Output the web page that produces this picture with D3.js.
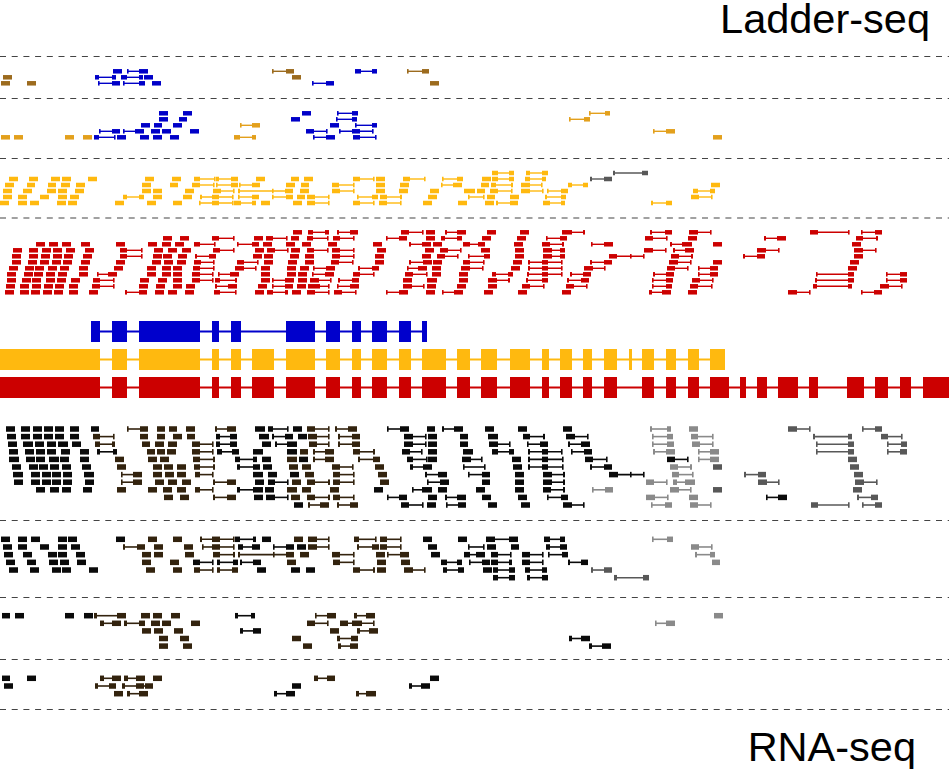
<!DOCTYPE html>
<html><head><meta charset="utf-8">
<script src="https://cdn.jsdelivr.net/npm/d3@7"></script>
<style>body{margin:0;background:#fff}svg{display:block}</style>
</head><body>
<script>
// ---------- DATA ----------
// gene model exons (genomic coordinate units)
const exonsIso1 = [[91,100],[112,127],[139,200],[212,219],[231,241],[286,315],[326,340],[352,361],[372,387],[399,411],[422,427]];
const exonsIso2 = [[0,100],[112,127],[139,200],[212,219],[231,241],[252,274],[286,315],[326,340],[352,361],[372,387],[399,411],[422,446],[457,470],[481,497],[510,530],[542,549],[560,572],[583,592],[604,617],[629,632],[642,654],[666,676],[688,699],[710,725]];
const exonsIso3 = [[0,100],[112,127],[139,200],[212,219],[231,241],[252,274],[286,315],[326,340],[352,361],[372,387],[399,411],[422,446],[457,470],[481,497],[510,530],[542,549],[560,572],[583,592],[604,617],[642,654],[666,676],[688,699],[710,729],[740,746],[757,767],[778,798],[809,818],[847,864],[875,888],[900,911],[923,949]];

// reads: [row, group, start1, end1, start2, end2, ...]
const ladderBin1 = [
[0,'B',113,122],[0,'B',127,128,139,148],[0,'w',272,273,286,294],[0,'B',355,361,372,377],[0,'w',407,408,422,429],
[1,'w',3,12],[1,'B',95,99,112,116],[1,'B',121,127,139,143],[1,'B',144,153],[1,'w',292,301],
[2,'w',1,10],[2,'w',27,36],[2,'B',98,99,112,120],[2,'B',123,124,139,145],[2,'B',152,161],[2,'B',312,313,326,334],[2,'w',430,439]
];
const ladderBin2 = [
[0,'B',159,168],[0,'B',183,192],[0,'B',302,311],[0,'B',337,338,352,358],[0,'o',589,590,605,610],
[1,'B',159,168],[1,'B',179,187],[1,'B',291,300],[1,'B',336,337,352,357],[1,'o',569,570,584,590],
[2,'B',141,150],[2,'B',154,162],[2,'B',173,182],[2,'o',240,241,252,260],[2,'B',330,339],[2,'B',355,356,372,377],
[3,'B',99,100,112,120],[3,'B',123,124,135,144],[3,'B',151,160],[3,'B',162,171],[3,'B',190,199],[3,'B',306,314,326,327],[3,'B',339,340,352,360,372,373],[3,'o',653,654,666,675],
[4,'o',1,10],[4,'o',14,23],[4,'o',65,74],[4,'o',83,92],[4,'B',94,99,114,115],[4,'B',117,126],[4,'B',140,149],[4,'B',153,162],[4,'B',170,179],[4,'o',234,240,252,256],[4,'B',313,314,326,335],[4,'B',353,360,375,376],[4,'o',713,722]
];
const ladderBin3 = [
[0,'y',492,498,509,514],[0,'y',526,530,542,548],[0,'d',613,615,642,648],
[1,'y',9,18],[1,'y',29,38],[1,'y',51,60],[1,'y',62,71],[1,'y',88,97],[1,'y',145,154],[1,'y',172,181],[1,'y',194,200,214,215],[1,'y',216,219,231,238],[1,'y',256,265],[1,'y',291,299],[1,'y',304,313],[1,'y',353,360,373,374],[1,'y',376,385],[1,'y',403,410,424,425],[1,'y',442,443,457,463],[1,'y',482,491],[1,'y',492,498,509,514],[1,'y',525,530,542,546],[1,'d',590,592,604,612],
[2,'y',5,14],[2,'y',27,35],[2,'y',48,56],[2,'y',61,70],[2,'y',76,85],[2,'y',142,151],[2,'y',170,178],[2,'y',192,200,213,214],[2,'y',216,217,231,238],[2,'y',239,240,252,260],[2,'y',286,295],[2,'y',301,309],[2,'y',332,339,353,354],[2,'y',376,385],[2,'y',400,409],[2,'y',441,442,453,462],[2,'y',481,489],[2,'y',491,496,511,513],[2,'y',521,530,541,542],[2,'y',568,572,583,588],[2,'y',711,720],
[3,'y',3,12],[3,'y',23,32],[3,'y',47,56],[3,'y',58,67],[3,'y',75,84],[3,'y',142,151],[3,'y',153,162],[3,'y',185,194],[3,'y',213,221,233,234],[3,'y',238,240,272,273,285,293],[3,'y',300,309],[3,'y',332,340,353,354],[3,'y',376,385],[3,'y',399,408],[3,'y',430,439],[3,'y',464,475],[3,'y',477,485],[3,'y',490,498,511,512],[3,'y',521,530,542,543],[3,'y',547,548,561,568],[3,'y',693,698,710,715],
[4,'y',3,12],[4,'y',18,27],[4,'y',40,49],[4,'y',58,67],[4,'y',70,79],[4,'y',123,127,139,144],[4,'y',153,162],[4,'y',183,192],[4,'y',200,202,212,219,232,233],[4,'y',238,239,252,259],[4,'y',272,273,286,293],[4,'y',297,305],[4,'y',307,315,328,329],[4,'y',357,358,372,378],[4,'y',380,387,400,402],[4,'y',428,437],[4,'y',468,469,483,484],[4,'y',487,495],[4,'y',510,519],[4,'y',545,547,561,566],[4,'y',691,699,711,712],
[5,'y',0,9],[5,'y',18,27],[5,'y',30,39],[5,'y',57,66],[5,'y',68,77],[5,'y',115,124],[5,'y',147,156],[5,'y',173,182],[5,'y',199,200,212,219,232,233],[5,'y',234,241,252,256],[5,'y',261,270],[5,'y',293,302],[5,'y',307,315,328,329],[5,'y',353,360,373,374],[5,'y',379,387,400,401],[5,'y',423,432],[5,'y',458,467],[5,'y',485,494],[5,'y',496,498,510,518],[5,'y',543,550,561,565],[5,'y',651,653,666,672]
];
const ladderBin4 = [
[0,'r',293,302],[0,'r',308,313,325,329],[0,'r',337,339,350,358],[0,'r',401,409,422,423],[0,'r',426,435],[0,'r',445,447,457,466],[0,'r',487,496],[0,'r',520,529],[0,'r',562,572,583,585],[0,'r',650,652,665,672],[0,'r',689,698,710,711],[0,'r',810,818,848,849],[0,'r',861,862,875,882],
[1,'r',163,172],[1,'r',180,189],[1,'r',212,219,233,234],[1,'r',254,263],[1,'r',266,273,286,287],[1,'r',291,299],[1,'r',307,313,327,328],[1,'r',333,340,353,354],[1,'r',386,387,399,407],[1,'r',426,435],[1,'r',441,445,457,462],[1,'r',482,491],[1,'r',517,526],[1,'r',546,547,560,567],[1,'r',645,653,666,667],[1,'r',688,697],[1,'r',764,766,777,786],[1,'r',856,863,876,878],
[2,'r',36,45],[2,'r',49,58],[2,'r',62,71],[2,'r',81,90],[2,'r',116,125],[2,'r',148,157],[2,'r',162,171],[2,'r',175,184],[2,'r',194,200,214,215],[2,'r',237,238,252,259],[2,'r',263,272],[2,'r',286,295],[2,'r',302,311],[2,'r',328,337],[2,'r',373,382],[2,'r',409,411,422,431],[2,'r',433,442],[2,'r',463,470,478,485],[2,'r',514,523],[2,'r',542,550,562,564],[2,'r',591,592,604,613],[2,'r',670,672,682,692],[2,'r',713,722],[2,'r',852,861],
[3,'r',13,22],[3,'r',29,38],[3,'r',42,51],[3,'r',53,62],[3,'r',66,75],[3,'r',85,94],[3,'r',120,127,141,142],[3,'r',154,163],[3,'r',168,177],[3,'r',182,191],[3,'r',213,220,233,234],[3,'r',255,264],[3,'r',267,275,287,288],[3,'r',291,300],[3,'r',307,314,327,328],[3,'r',332,340,353,354],[3,'r',377,386],[3,'r',425,434],[3,'r',440,448,460,461],[3,'r',481,490],[3,'r',515,524],[3,'r',543,552,560,565],[3,'r',644,653,665,666],[3,'r',673,675,685,694],[3,'r',757,766,778,779],[3,'r',854,863,875,876],
[4,'r',12,21],[4,'r',29,38],[4,'r',41,50],[4,'r',53,62],[4,'r',64,73],[4,'r',83,92],[4,'r',120,127,141,142],[4,'r',153,162],[4,'r',163,172],[4,'r',178,187],[4,'r',195,197,209,216],[4,'r',253,262],[4,'r',264,273],[4,'r',290,299],[4,'r',305,314],[4,'r',332,340,353,354],[4,'r',375,384],[4,'r',422,431],[4,'r',437,445,457,458],[4,'r',468,469,484,490],[4,'r',515,524],[4,'r',543,552,560,565],[4,'r',609,617,630,631,643,644],[4,'r',671,679,691,693],[4,'r',743,745,757,765],[4,'r',854,863],
[5,'r',12,21],[5,'r',28,37],[5,'r',40,49],[5,'r',52,61],[5,'r',63,72],[5,'r',81,90],[5,'r',116,125],[5,'r',152,161],[5,'r',164,173],[5,'r',177,186],[5,'r',194,201,213,214],[5,'r',237,244,257,258],[5,'r',264,273],[5,'r',288,297],[5,'r',305,314],[5,'r',331,339,352,353],[5,'r',375,384],[5,'r',409,411,423,432],[5,'r',433,442],[5,'r',463,470,483,484],[5,'r',513,522],[5,'r',528,530,542,548,561,562],[5,'r',590,592,604,612],[5,'r',669,678,690,691],[5,'r',713,722],[5,'r',850,859],
[6,'r',9,18],[6,'r',25,34],[6,'r',35,44],[6,'r',48,57],[6,'r',60,69],[6,'r',79,88],[6,'r',114,123],[6,'r',147,156],[6,'r',162,171],[6,'r',173,182],[6,'r',193,200,213,214],[6,'r',235,244,255,256],[6,'r',261,270],[6,'r',287,296],[6,'r',300,309],[6,'r',313,314,326,335],[6,'r',358,360,372,379],[6,'r',407,408,418,427],[6,'r',432,441],[6,'r',461,470,482,483],[6,'r',511,520],[6,'r',528,530,542,548,561,562],[6,'r',584,593,604,605],[6,'r',667,675,687,688],[6,'r',698,699,710,718],[6,'r',848,857],
[7,'r',7,16],[7,'r',24,33],[7,'r',34,43],[7,'r',46,55],[7,'r',58,67],[7,'r',79,88],[7,'r',97,98,108,117],[7,'r',147,156],[7,'r',162,171],[7,'r',173,182],[7,'r',192,200,212,213],[7,'r',218,219,230,239],[7,'r',261,270],[7,'r',287,296],[7,'r',298,307],[7,'r',312,313,325,334],[7,'r',353,360,373,374],[7,'r',405,413,426,427],[7,'r',432,441],[7,'r',459,468],[7,'r',492,496,508,513],[7,'r',527,529,542,548,561,562],[7,'r',570,572,583,591],[7,'r',653,655,666,674],[7,'r',698,699,710,718],[7,'r',816,817,848,854],[7,'r',886,887,900,907],
[8,'r',7,16],[8,'r',22,31],[8,'r',32,41],[8,'r',46,55],[8,'r',57,66],[8,'r',71,80],[8,'r',93,100,113,114],[8,'r',140,149],[8,'r',158,167],[8,'r',173,182],[8,'r',192,200,212,213],[8,'r',215,220,235,237],[8,'r',261,270],[8,'r',272,273,285,294],[8,'r',298,307],[8,'r',310,319,330,331],[8,'r',338,340,352,359],[8,'r',403,412],[8,'r',427,437],[8,'r',459,468],[8,'r',488,497,508,510],[8,'r',526,528,542,548],[8,'r',567,569,581,589],[8,'r',652,653,666,673],[8,'r',692,700,712,713],[8,'r',815,817,848,854],[8,'r',886,887,900,907],
[9,'r',6,15],[9,'r',20,29],[9,'r',32,41],[9,'r',44,53],[9,'r',55,64],[9,'r',69,78],[9,'r',92,100,113,114],[9,'r',139,148],[9,'r',156,165],[9,'r',173,182],[9,'r',186,195],[9,'r',215,217,228,237],[9,'r',258,267],[9,'r',272,273,285,293],[9,'r',297,306],[9,'r',308,320,328,329],[9,'r',337,338,350,359],[9,'r',403,412,423,424],[9,'r',427,436],[9,'r',457,466],[9,'r',488,497],[9,'r',522,530,543,544],[9,'r',566,574,586,587],[9,'r',652,653,666,672],[9,'r',690,698,711,712],[9,'r',813,817,848,852],[9,'r',880,889,901,902],
[10,'r',5,14],[10,'r',20,29],[10,'r',31,40],[10,'r',43,52],[10,'r',54,63],[10,'r',69,78],[10,'r',89,98],[10,'r',125,127,139,147],[10,'r',155,164],[10,'r',168,177],[10,'r',185,194],[10,'r',214,220,235,236],[10,'r',255,264],[10,'r',267,273,285,288],[10,'r',292,301],[10,'r',307,315,328,329],[10,'r',334,342,355,356],[10,'r',386,387,399,408],[10,'r',426,435],[10,'r',442,443,454,463],[10,'r',484,493],[10,'r',518,527],[10,'r',562,571],[10,'r',649,652,662,671],[10,'r',688,697],[10,'r',788,797,809,810],[10,'r',861,862,874,882]
];
const rnaBin1 = [
[0,'k',6,15],[0,'k',21,30],[0,'k',33,42],[0,'k',44,53],[0,'k',55,64],[0,'k',70,79],[0,'k',91,99],[0,'n',127,128,140,148],[0,'n',157,165],[0,'n',169,177],[0,'n',186,195],[0,'n',215,217,227,236],[0,'k',255,265],[0,'k',268,273,287,288],[0,'k',293,302],[0,'n',307,315,328,329],[0,'n',335,337,348,357],[0,'k',387,388,400,409],[0,'k',427,435],[0,'k',442,444,454,463],[0,'k',485,494],[0,'k',518,527],[0,'k',563,572],[0,'g',650,652,667,671],[0,'g',689,698],[0,'d',788,797,809,810],[0,'d',862,863,875,882],
[1,'k',7,16],[1,'k',21,30],[1,'k',33,42],[1,'k',44,53],[1,'k',55,64],[1,'k',70,79],[1,'n',93,100,113,114],[1,'n',140,148],[1,'n',157,165],[1,'n',173,182],[1,'n',187,195],[1,'k',216,220,230,237],[1,'k',259,269],[1,'k',272,274,285,293],[1,'k',298,307],[1,'n',308,317,328,329],[1,'n',338,340,352,360],[1,'k',404,413,425,426],[1,'k',428,437],[1,'k',460,468],[1,'k',488,498],[1,'k',523,530,543,545],[1,'k',566,575,587,588],[1,'g',652,653,667,673],[1,'g',691,698,712,713],[1,'d',813,815,848,852],[1,'d',881,888,901,902],
[2,'k',8,17],[2,'k',23,33],[2,'k',35,44],[2,'k',47,56],[2,'k',58,68],[2,'k',72,81],[2,'n',95,100,112,115],[2,'n',142,150],[2,'n',155,164],[2,'n',168,177],[2,'n',192,200,212,213],[2,'k',216,220,230,237],[2,'k',262,271],[2,'k',275,277,287,297],[2,'n',309,317,328,329],[2,'n',338,340,352,360],[2,'k',404,413,425,426],[2,'k',428,437],[2,'k',460,468],[2,'k',489,498,509,510],[2,'k',527,528,540,548],[2,'k',568,570,581,590],[2,'g',652,653,667,674],[2,'g',692,700,712,713],[2,'d',816,817,848,854],[2,'d',887,888,901,907],
[3,'k',9,18],[3,'k',25,34],[3,'k',36,45],[3,'k',47,56],[3,'k',61,70],[3,'k',80,89],[3,'k',97,100,113,117],[3,'n',147,155],[3,'n',157,165],[3,'n',167,176],[3,'n',192,200,212,213],[3,'k',217,222,232,239],[3,'k',253,263],[3,'k',287,297],[3,'n',300,308],[3,'n',313,315,325,334],[3,'n',353,360,373,375],[3,'k',402,410,421,422],[3,'k',428,437],[3,'k',463,473],[3,'k',492,498,509,514],[3,'k',528,530,542,548,561,562],[3,'k',571,572,584,592],[3,'g',653,655,666,675],[3,'g',698,699,710,719],[3,'d',816,817,848,854],[3,'d',887,888,900,907],
[4,'k',9,19],[4,'k',26,35],[4,'k',36,45],[4,'k',49,59],[4,'k',60,69],[4,'k',80,89],[4,'n',115,124],[4,'n',148,157],[4,'n',160,169],[4,'n',193,200,213,215],[4,'k',235,240,253,257],[4,'k',262,271],[4,'n',287,297],[4,'k',299,308],[4,'n',313,315,325,334],[4,'n',358,360,373,380],[4,'k',407,413,426,427],[4,'k',428,437],[4,'k',462,471,481,482],[4,'k',512,521],[4,'k',528,530,542,548,562,563],[4,'k',585,593,606,607],[4,'k',667,675,687,688],[4,'g',698,699,710,719],[4,'d',848,857],
[5,'k',12,21],[5,'k',29,38],[5,'k',39,48],[5,'k',50,59],[5,'k',62,71],[5,'k',82,91],[5,'n',117,126],[5,'n',153,162],[5,'n',164,173],[5,'n',177,186],[5,'n',194,200,213,215],[5,'k',237,240,253,260],[5,'k',263,272],[5,'n',289,298],[5,'n',302,311],[5,'n',332,340,352,353],[5,'n',375,384],[5,'k',410,413,423,432],[5,'k',463,464,484,485],[5,'k',513,522],[5,'k',528,530,542,548,562,563],[5,'k',590,592,604,612],[5,'g',670,678,690,692],[5,'d',713,722],[5,'d',850,859],
[6,'k',13,23],[6,'k',31,40],[6,'k',42,51],[6,'k',52,61],[6,'k',63,72],[6,'k',84,94],[6,'n',121,122,133,142],[6,'n',153,162],[6,'n',165,174],[6,'n',177,186],[6,'n',195,200,212,213],[6,'k',253,263],[6,'k',268,277],[6,'k',290,299],[6,'n',305,314],[6,'n',333,340,353,354],[6,'n',378,387],[6,'k',425,427,438,447],[6,'k',468,469,482,490],[6,'k',515,524],[6,'k',543,552,563,565],[6,'k',609,618,630,631,643,644],[6,'g',672,679,692,693],[6,'d',744,746,758,766],[6,'d',854,863],
[7,'k',14,23],[7,'k',31,40],[7,'k',42,51],[7,'k',52,61],[7,'k',63,72],[7,'k',85,94],[7,'n',121,122,133,142],[7,'n',155,164],[7,'n',168,177],[7,'n',182,191],[7,'n',213,215,227,236],[7,'k',255,264],[7,'k',268,275,287,288],[7,'n',292,301],[7,'n',307,315,328,330],[7,'n',333,340,353,354],[7,'n',380,389],[7,'k',427,428,440,449],[7,'k',482,490],[7,'k',515,524],[7,'k',543,552,563,565],[7,'g',646,654,666,667],[7,'g',673,677,685,695],[7,'d',758,767,778,779],[7,'d',855,864,876,877],
[8,'k',36,45],[8,'k',50,59],[8,'k',62,71],[8,'k',83,92],[8,'n',117,126],[8,'n',148,157],[8,'n',163,172],[8,'n',177,186],[8,'n',195,200,212,213],[8,'k',237,240,253,263],[8,'k',265,274],[8,'n',287,297],[8,'n',302,311],[8,'n',330,339],[8,'k',374,383],[8,'k',412,413,422,432],[8,'k',438,447],[8,'k',476,485],[8,'k',515,524],[8,'k',543,551,563,565],[8,'g',592,593,605,613],[8,'g',670,679,690,691],[8,'d',713,722],[8,'d',853,862],
[9,'n',164,173],[9,'n',180,189],[9,'n',213,215,227,236],[9,'k',254,263],[9,'k',266,275,287,288],[9,'n',291,300],[9,'n',307,315,328,330],[9,'n',333,340,353,354],[9,'k',387,388,399,407],[9,'k',428,437],[9,'k',445,447,457,466],[9,'k',482,491],[9,'k',518,527],[9,'k',547,548,561,568],[9,'g',646,655,667,668],[9,'g',689,698],[9,'k',766,767,778,787],[9,'d',857,859,871,878],
[10,'k',294,303],[10,'n',308,310,320,329],[10,'n',337,339,350,358],[10,'k',401,409,422,423],[10,'k',427,436],[10,'k',446,447,458,466],[10,'k',488,497],[10,'k',521,530],[10,'k',563,572,583,584],[10,'g',651,652,665,672],[10,'g',690,698,710,711],[10,'d',811,818,848,849],[10,'d',862,863,875,882]
];
const rnaBin2 = [
[0,'k',1,10],[0,'k',18,27],[0,'k',31,40],[0,'k',58,67],[0,'k',68,77],[0,'k',116,125],[0,'n',148,157],[0,'n',173,182],[0,'n',200,202,212,220,233,234],[0,'k',235,240,253,256],[0,'k',262,271],[0,'n',294,303],[0,'n',308,317,328,329],[0,'n',354,359,375,376],[0,'n',380,387,400,401],[0,'k',423,432],[0,'k',458,467],[0,'k',486,495,509,518],[0,'k',544,550,560,565],[0,'g',652,653,667,673],
[1,'k',3,12],[1,'k',18,27],[1,'k',40,49],[1,'k',58,67],[1,'k',71,80],[1,'n',123,125,137,145],[1,'n',154,163],[1,'n',184,193],[1,'n',202,203,212,220,233,234],[1,'k',238,243,252,260],[1,'k',273,274,286,294],[1,'k',297,306],[1,'n',308,317,328,329],[1,'n',357,359,372,379],[1,'n',380,387,400,401],[1,'k',428,437],[1,'k',468,469,483,484],[1,'k',487,496],[1,'k',511,519],[1,'k',546,550,560,567],[1,'g',691,699,711,712],
[2,'k',4,13],[2,'k',23,32],[2,'k',48,57],[2,'k',58,67],[2,'k',76,85],[2,'n',142,151],[2,'n',154,163],[2,'n',185,194],[2,'n',213,220,233,235],[2,'n',238,240,273,274,286,294],[2,'n',300,309],[2,'n',332,340,353,354],[2,'n',376,385],[2,'n',387,388,400,409],[2,'k',431,440],[2,'k',464,470,476,485],[2,'k',491,498,510,511],[2,'k',522,530,542,543],[2,'k',548,549,562,568],[2,'g',695,697,710,715],
[3,'k',6,15],[3,'k',27,36],[3,'k',49,58],[3,'k',60,69],[3,'k',77,86],[3,'n',142,151],[3,'n',170,179],[3,'k',193,200,212,213],[3,'k',217,220,233,238],[3,'k',240,242,253,261],[3,'n',287,296],[3,'n',333,340,353,354],[3,'n',377,386],[3,'n',401,410],[3,'k',441,447,457,462],[3,'k',469,470,482,490],[3,'k',491,498,509,512],[3,'k',522,530,542,543],[3,'k',568,570,581,588],[3,'g',712,720],
[4,'k',9,18],[4,'k',30,39],[4,'k',52,61],[4,'k',62,71],[4,'k',89,98],[4,'n',146,155],[4,'n',173,182],[4,'n',194,200,212,213],[4,'n',217,220,232,238],[4,'k',257,266],[4,'k',291,300],[4,'k',306,315],[4,'n',353,360,373,375],[4,'n',377,386],[4,'n',404,413,424,425],[4,'k',443,447,458,464],[4,'k',483,492],[4,'k',493,498,509,515],[4,'k',525,530,542,547],[4,'d',591,593,604,612],
[5,'k',493,498,509,515],[5,'k',527,530,542,548],[5,'d',614,617,643,649]
];
const rnaBin3 = [
[0,'k',2,10],[0,'k',15,24],[0,'k',65,74],[0,'k',84,93],[0,'n',94,97,117,126],[0,'n',141,150],[0,'n',153,162],[0,'n',171,180],[0,'k',235,238,251,255],[0,'n',315,316,327,336],[0,'n',354,357,366,375],[0,'g',714,723],
[1,'n',100,104,112,121],[1,'n',124,127,139,145],[1,'n',151,160],[1,'n',162,171],[1,'n',191,200],[1,'n',307,315,327,328],[1,'n',340,348,352,362,373,374],[1,'g',655,656,666,675],
[2,'n',142,151],[2,'n',154,163],[2,'n',174,183],[2,'k',240,243,253,261],[2,'n',330,339],[2,'n',357,360,369,378],
[3,'n',159,168],[3,'n',180,189],[3,'n',292,301],[3,'n',337,340,351,358],[3,'k',569,572,581,590],
[4,'n',159,168],[4,'n',183,192],[4,'n',303,312],[4,'n',338,341,350,358],[4,'k',589,592,602,611]
];
const rnaBin4 = [
[0,'k',2,10],[0,'k',27,36],[0,'n',100,104,112,121],[0,'n',124,128,136,145],[0,'n',153,162],[0,'n',314,318,327,335],[0,'k',430,439],
[1,'k',4,13],[1,'n',95,98,109,116],[1,'n',122,125,136,144,145,153],[1,'k',292,301],[1,'k',409,412,421,430],
[2,'n',114,123],[2,'n',127,130,139,148],[2,'k',274,277,286,295],[2,'n',356,359,366,376]
];
const titleTop = "Ladder-seq";
const titleBottom = "RNA-seq";

// ---------- STYLE / LAYOUT ----------
const W = 949, H = 769;
const groupColor = {B:'#0000c8', w:'#9c6b1e', o:'#e3a01c', y:'#ffb90f', r:'#cc0000', d:'#585858', k:'#0a0a0a', n:'#33230e', g:'#8a8a8a'};
const panels = [
  {reads: ladderBin1, rows: 3,  y0: 71.3,  step: 6,    h: 4.5, lw: 1.4},
  {reads: ladderBin2, rows: 5,  y0: 113.3, step: 6,    h: 4.5, lw: 1.4},
  {reads: ladderBin3, rows: 6,  y0: 173,   step: 6,    h: 4.5, lw: 1.4},
  {reads: ladderBin4, rows: 11, y0: 232.3, step: 6,    h: 4.5, lw: 1.4},
  {reads: rnaBin1,    rows: 11, y0: 429,   step: 7.6,  h: 5.5, lw: 1.6},
  {reads: rnaBin2,    rows: 6,  y0: 539.3, step: 7.68, h: 5.5, lw: 1.6},
  {reads: rnaBin3,    rows: 5,  y0: 615.7, step: 7.6,  h: 5.5, lw: 1.6},
  {reads: rnaBin4,    rows: 3,  y0: 678.3, step: 7.7,  h: 5.5, lw: 1.6}
];
const separators = [56, 98, 158, 217.5, 520, 597, 659, 709];
const models = [
  {exons: exonsIso1, color: '#0000cc', y: 331.5},
  {exons: exonsIso2, color: '#ffb90f', y: 359.5},
  {exons: exonsIso3, color: '#cc0000', y: 387.5}
];

const svg = d3.select('body').append('svg').attr('width', W).attr('height', H)
  .style('font-family', '"Liberation Sans", Arial, sans-serif');
svg.append('rect').attr('width', W).attr('height', H).attr('fill', '#fff');

const x = d3.scaleLinear().domain([0, 949]).range([0, W]);

// separators
svg.append('g').selectAll('line').data(separators).join('line')
  .attr('x1', 0).attr('x2', W)
  .attr('y1', d => d + 0.5).attr('y2', d => d + 0.5)
  .attr('stroke', '#444').attr('stroke-width', 1.2).attr('stroke-dasharray', '6,5.7');

// reads
panels.forEach(p => {
  const y = d3.scaleLinear().domain([0, p.rows - 1]).range([p.y0, p.y0 + p.step * (p.rows - 1)]);
  const g = svg.append('g');
  const reads = g.selectAll('g').data(p.reads).join('g');
  reads.each(function(r) {
    const sel = d3.select(this);
    const col = groupColor[r[1]];
    const c = r.slice(2);
    const yc = y(r[0]);
    if (c.length > 2) {
      sel.append('line').attr('x1', x(c[0])).attr('x2', x(c[c.length - 1]))
        .attr('y1', yc).attr('y2', yc).attr('stroke', col).attr('stroke-width', p.lw);
    }
    for (let i = 0; i < c.length; i += 2) {
      const w = Math.max(1.6, x(c[i + 1]) - x(c[i]));
      sel.append('rect').attr('x', x(c[i])).attr('y', yc - p.h / 2)
        .attr('width', w).attr('height', p.h).attr('fill', col);
    }
  });
});

// gene models
models.forEach(m => {
  const g = svg.append('g');
  const first = m.exons[0][0], last = m.exons[m.exons.length - 1][1];
  g.append('line').attr('x1', x(first)).attr('x2', x(last)).attr('y1', m.y).attr('y2', m.y)
    .attr('stroke', m.color).attr('stroke-width', 2);
  g.selectAll('rect').data(m.exons).join('rect')
    .attr('x', d => x(d[0])).attr('width', d => x(d[1]) - x(d[0]))
    .attr('y', m.y - 10.5).attr('height', 21).attr('fill', m.color);
});

// titles
svg.append('text').attr('x', 930).attr('y', 33).attr('text-anchor', 'end')
  .attr('font-size', 41.5).attr('fill', '#000').text(titleTop);
svg.append('text').attr('x', 916).attr('y', 761).attr('text-anchor', 'end')
  .attr('font-size', 41.5).attr('fill', '#000').text(titleBottom);
</script>
</body></html>
